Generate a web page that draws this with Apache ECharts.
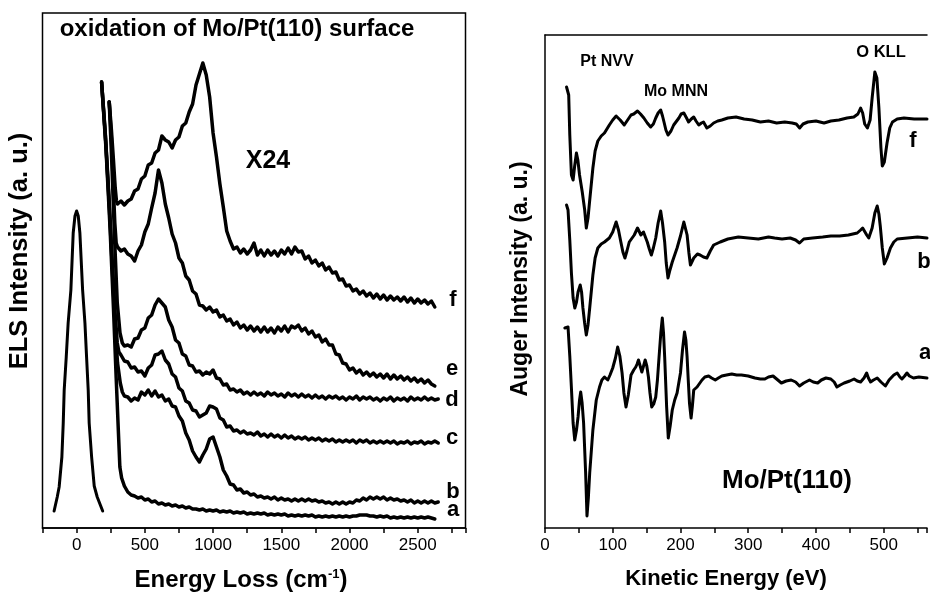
<!DOCTYPE html>
<html>
<head>
<meta charset="utf-8">
<title>Mo/Pt(110) ELS and Auger spectra</title>
<script src="https://cdn.jsdelivr.net/npm/echarts@6/dist/echarts.min.js"></script>
<style>
  html, body { margin: 0; padding: 0; background: #fff; }
  #chart { width: 930px; height: 594px; }
</style>
</head>
<body>
<div id="chart"></div>
<script>
// ---------- ELS spectra (energy loss in cm^-1, intensity in arbitrary units) ----------
// Elastic peak, unscaled
const elasticPeak = [[-165,17],[-142,31],[-128,41],[-108,71],[-98,105],[-91,138],[-76,171],[-62,205],[-42,238],[-25,295],[-12,312],[0,317],[12,312],[24,295],[44,238],[61,205],[73,171],[85,138],[92,105],[110,71],[129,42],[151,31],[191,17]];

// X24 traces: steep elastic tail (explicit pairs) followed by values sampled every 25 cm^-1
const TAIL_STEP = 25;

const elsHeadA = [[183,446],[215,380],[245,300],[270,220],[290,150],[305,100],[317,61],[330,50]];
const elsTailStartA = 350;
const elsTailA = [42,36,33,32,30,31,28,29,26,27, 24,25,23,24,22,23,21,22,20,21, 19,19,18,19,17,18,17,18,16,17, 16,17,15,16,15,16,14,15,14,15, 14,15,13,14,13,14,13,14,12,13, 12,13,12,13,12,13,11,12,11,12, 11,12,11,12,11,12,11,12,12,13, 13,13,12,12,11,12,11,12,10,11, 10,11,10,11,10,11,10,11,10,11, 10,9];

const elsHeadB = [[183,446],[212,390],[240,320],[265,250],[285,195],[300,165],[320,145],[335,136]];
const elsTailStartB = 350;
const elsTailB = [132,131,127,130,128,136,133,138,132,137, 131,133,127,129,122,121,112,107,95,88, 77,71,66,73,79,89,91,81,71,58, 52,44,43,38,39,35,36,33,34,31, 32,30,31,29,31,28,30,28,29,27, 29,27,29,27,29,27,28,26,27,25, 26,24,26,24,26,24,26,25,28,27, 30,28,31,29,31,29,31,28,30,28, 29,27,28,26,28,25,27,25,27,25, 27,25,26];

const elsHeadC = [[183,446],[210,395],[238,330],[262,265],[282,215],[298,185],[310,176]];
const elsTailStartC = 325;
const elsTailC = [173,167,166,160,161,156,157,152,160,163, 173,174,177,168,164,154,151,140,137,127, 125,118,117,111,113,115,122,121,119,110, 108,101,102,97,98,95,97,94,95,93, 96,92,94,91,94,91,93,90,93,90, 92,89,91,89,91,88,90,88,90,87, 89,87,89,86,88,86,88,86,88,85, 88,86,88,85,87,85,87,85,87,85, 87,84,86,85,87,84,86,85,87,84, 86,85,87,85];

const elsHeadD = [[239,426],[258,365],[278,290],[298,225],[318,195],[335,185]];
const elsTailStartD = 350;
const elsTailD = [182,183,181,189,190,198,200,210,213,223, 229,225,221,208,201,188,185,174,172,163, 162,156,157,153,156,154,158,150,149,143, 144,138,139,136,138,134,136,133,136,133, 135,132,136,133,135,132,134,131,135,132, 134,131,134,131,133,130,133,130,132,129, 132,130,132,129,131,128,131,129,132,128, 131,129,131,128,130,127,130,128,131,127, 130,128,130,127,131,128,130,128,131,128, 130,128,129];

const elsHeadE = [[239,426],[255,390],[268,345],[280,305],[290,285]];
const elsTailStartE = 300;
const elsTailE = [281,277,279,274,272,267,277,283,296,304, 320,335,358,345,324,310,294,285,270,265, 252,248,237,234,223,222,218,221,216,218, 211,213,207,209,203,206,200,203,198,202, 197,201,196,201,196,200,195,201,197,202, 196,202,200,203,197,200,194,197,191,193, 186,189,183,183,174,173,165,164,158,160, 155,158,153,156,152,155,151,154,150,154, 149,153,149,152,148,151,147,150,146,149, 145,148,144,142];

const elsHeadF = [[239,426],[255,398],[270,368],[283,340],[292,327]];
const elsTailStartF = 300;
const elsTailF = [324,327,323,327,329,337,339,349,352,363, 365,375,378,392,388,386,380,388,391,402, 405,416,424,443,454,465,453,431,395,371, 344,321,297,287,279,281,275,279,274,278, 285,273,278,272,278,273,277,272,278,274, 280,274,281,276,277,269,272,265,268,262, 265,258,261,255,256,248,249,242,243,237, 239,234,237,232,235,230,234,229,233,228, 232,228,231,227,231,226,230,225,229,225, 228,224,227,221];

// ---------- Auger spectra (kinetic energy in eV, derivative intensity in arbitrary units) ----------
const augerA = [[29.3,200],[31,202],[34,201],[36.6,172],[39,140],[41.5,105],[43.9,88],[46.5,98],[48.8,111],[51,128],[52.7,136],[54.8,125],[57,105],[58.5,80],[60,55],[62,12],[64,30],[66,55],[70.7,98],[75.7,128],[80.5,141],[84,148],[87.8,151],[92.7,148],[96,153],[100,160],[104,170],[107.3,181],[110.5,172],[113.8,155],[116.5,135],[119.6,121],[123,133],[127,153],[131,158],[134,161],[136,164],[138,168],[140.5,162],[143,156],[145.5,162],[147.9,168],[150.3,162],[152.7,151],[155,135],[157.6,121],[160.5,124],[163.5,131],[166,148],[168.4,171],[171,195],[173.2,210],[175,195],[176.7,171],[178.2,145],[179.6,121],[182,90],[184.8,102],[187.9,118],[191.5,128],[195,135],[200,155],[203,178],[206,196],[208,188],[209.8,171],[211.5,148],[213.3,125],[215.7,110],[217.6,122],[219.6,138],[224.5,141],[231.8,148],[236,151],[241.6,152],[246,150],[251.4,148],[256,150],[261,152],[268,153],[275.7,154],[283,153],[290,153],[300,152],[310,150],[318,149],[324.6,149],[330,151],[336.7,152],[342,149],[349,145],[356,147],[363.5,148],[370,146],[375.8,142],[382,145],[390.5,148],[396,146],[402.6,145],[408,148],[414.8,150],[422,149],[427,146],[431,141],[436,143],[441.7,145],[450,147],[456.4,149],[461,147],[466,146],[471,150],[474.9,155],[477.5,150],[480.7,146],[485,148],[490.5,150],[496,146],[502.6,142],[508,148],[515,153],[520,155],[524,151],[527,149],[531,152],[534.4,155],[538,152],[544,150],[552,151],[564,150]];

const augerB = [[31.8,323],[34,318],[36.6,288],[39,255],[41.5,230],[44,220],[46.5,226],[48.8,236],[52,243],[54,236],[56,220],[58.5,205],[61,193],[63.5,203],[66,220],[70.7,253],[74,270],[78,280],[83,284],[87.8,286],[95,290],[100,296],[105,306],[108.5,298],[112,286],[115,276],[118,270],[121,277],[124.4,286],[131.8,293],[136.6,300],[141.6,293],[145.4,296],[151,286],[154,279],[157,273],[160,280],[163.5,290],[167,305],[170.8,317],[173.5,305],[176.7,286],[179,265],[181.6,250],[184.5,258],[187.9,266],[195,280],[200,292],[205,306],[209.8,293],[212.5,275],[214.7,263],[219.6,270],[225,274],[229,273],[234,271],[239,270],[244,277],[249,283],[258.7,286],[270,289],[285.5,291],[300,290],[315,289],[330,291],[339,290],[350,289],[362,290],[370,288],[375.8,285],[382,289],[395,290],[410,291],[422,292],[435,292],[448,293],[461,295],[466,298],[469,300],[471,299],[475,293],[478,290],[483,300],[487,315],[490.5,322],[493,314],[495,302],[498,280],[501,264],[505,270],[510,280],[515,286],[520,289],[535,290],[550,291],[564,290]];

const augerF = [[31.8,441],[35,433],[36.6,393],[39,353],[41.5,348],[43.8,362],[46.4,375],[48.5,368],[51,353],[55,336],[58.6,318],[61,300],[63.5,310],[65.9,327],[70.7,360],[74,377],[78,387],[83,392],[87.8,395],[95,403],[100,408],[105,412],[111,408],[117,403],[122,408],[127,413],[131,414],[136.6,417],[141,414],[146,410],[151,405],[156,401],[160,404],[163.5,410],[167,415],[170.8,418],[173.5,412],[175.7,406],[178.5,398],[181.6,393],[186,397],[190,403],[197.7,410],[201,414],[205,415],[209,410],[212,406],[216,409],[219.6,411],[223,407],[227,403],[231,405],[234,406],[239,400],[244,402],[249,405],[255,407],[261,408],[270,410],[282,411],[294,409],[306,408],[318,406],[330,407],[342,405],[354,406],[365,405],[371,404],[376,400],[381,404],[388,406],[400,407],[412,405],[422,407],[434,408],[446,410],[456,411],[462,414],[466,420],[469,415],[472,404],[476,400],[480,408],[483,430],[487,456],[490,450],[493,420],[496,380],[498,362],[501,366],[505,385],[509,400],[513,406],[520,409],[530,410],[545,409],[564,409]];

// Axis tick labels
const elsTickLabels = [0, 500, 1000, 1500, 2000, 2500];
const augerTickLabels = [0, 100, 200, 300, 400, 500];

// ---------- helpers ----------
function buildTrace(head, start, tail) {
  return head.concat(tail.map((v, i) => [start + i * TAIL_STEP, v]));
}

const FONT = '"Liberation Sans", Arial, Helvetica, sans-serif';
const INK = '#000';

function lineSeries(name, data, xIndex, yIndex, width) {
  return {
    name: name,
    type: 'line',
    xAxisIndex: xIndex,
    yAxisIndex: yIndex,
    data: data,
    showSymbol: false,
    symbol: 'none',
    smooth: false,
    silent: true,
    clip: true,
    lineStyle: { color: INK, width: width, join: 'round', cap: 'round' },
    z: 3
  };
}

function label(text, x, y, size, opts) {
  opts = opts || {};
  return {
    type: 'text',
    x: x,
    y: y,
    rotation: opts.rotation || 0,
    z: 10,
    style: {
      text: text,
      fontSize: size,
      fontWeight: opts.weight || 'bold',
      fontFamily: FONT,
      fill: INK,
      align: opts.align || 'center',
      verticalAlign: 'middle',
      rich: opts.rich
    }
  };
}

const frameLine = { show: true, onZero: false, lineStyle: { color: INK, width: 1.5 } };
const outTicks = { show: true, inside: false, length: 5, lineStyle: { color: INK, width: 1.5 } };
const noAxisParts = { axisTick: { show: false }, axisLabel: { show: false }, splitLine: { show: false } };

const chart = echarts.init(document.getElementById('chart'), null, { renderer: 'canvas' });

const option = {
  animation: false,
  backgroundColor: '#fff',
  grid: [
    // ELS panel: closed frame
    { left: 42.5, top: 13, width: 423, height: 515, show: true, borderColor: INK, borderWidth: 1.5, backgroundColor: 'transparent' },
    // Auger panel: runs to the right edge of the page, frame drawn with axis lines
    { left: 545, top: 35, right: 0, height: 493, show: false }
  ],
  xAxis: [
    {
      type: 'value', gridIndex: 0, min: -250, max: 2850, interval: 250,
      axisLine: frameLine, axisTick: outTicks, splitLine: { show: false },
      axisLabel: {
        color: INK, fontSize: 17, fontFamily: FONT, margin: 9, showMinLabel: true, showMaxLabel: true,
        formatter: v => (elsTickLabels.indexOf(v) >= 0 ? String(v) : '')
      }
    },
    {
      type: 'value', gridIndex: 1, min: 0, max: 564, interval: 50,
      axisLine: frameLine, axisTick: outTicks, splitLine: { show: false },
      axisLabel: {
        color: INK, fontSize: 17, fontFamily: FONT, margin: 9, showMinLabel: true,
        formatter: v => (augerTickLabels.indexOf(v) >= 0 ? String(v) : '')
      }
    },
    Object.assign({ type: 'value', gridIndex: 1, position: 'top', min: 0, max: 564, axisLine: frameLine }, noAxisParts)
  ],
  yAxis: [
    Object.assign({ type: 'value', gridIndex: 0, min: 0, max: 515, axisLine: { show: false } }, noAxisParts),
    Object.assign({ type: 'value', gridIndex: 1, min: 0, max: 493, axisLine: frameLine }, noAxisParts)
  ],
  series: [
    lineSeries('elastic', elasticPeak, 0, 0, 3),
    lineSeries('a', buildTrace(elsHeadA, elsTailStartA, elsTailA), 0, 0, 3.5),
    lineSeries('b', buildTrace(elsHeadB, elsTailStartB, elsTailB), 0, 0, 3.5),
    lineSeries('c', buildTrace(elsHeadC, elsTailStartC, elsTailC), 0, 0, 3.5),
    lineSeries('d', buildTrace(elsHeadD, elsTailStartD, elsTailD), 0, 0, 3.5),
    lineSeries('e', buildTrace(elsHeadE, elsTailStartE, elsTailE), 0, 0, 3.5),
    lineSeries('f', buildTrace(elsHeadF, elsTailStartF, elsTailF), 0, 0, 3.5),
    lineSeries('Auger a', augerA, 1, 1, 3),
    lineSeries('Auger b', augerB, 1, 1, 3),
    lineSeries('Auger f', augerF, 1, 1, 3)
  ],
  graphic: [
    // ELS panel annotations
    label('oxidation of Mo/Pt(110) surface', 237, 29, 24),
    label('X24', 268, 161, 25),
    label('f', 453, 300, 22),
    label('e', 452, 369, 22),
    label('d', 452, 400, 22),
    label('c', 452, 438, 22),
    label('b', 453, 492, 22),
    label('a', 453, 510, 22),
    label('ELS Intensity (a. u.)', 20, 251, 25.5, { rotation: Math.PI / 2 }),
    label('{m|Energy Loss (cm}{s|-1}{m|)}', 241, 580, 24, {
      rich: {
        m: { fontSize: 24, fontWeight: 'bold', fontFamily: FONT, fill: INK },
        s: { fontSize: 13, fontWeight: 'bold', fontFamily: FONT, fill: INK, verticalAlign: 'top' }
      }
    }),
    // Auger panel annotations
    label('Pt NVV', 607, 62, 16),
    label('Mo MNN', 676, 92, 16),
    label('O KLL', 881, 52, 16.5),
    label('f', 913, 141, 22),
    label('b', 924, 262, 22),
    label('a', 925, 353, 22),
    label('Mo/Pt(110)', 787, 481, 26),
    label('Auger Intensity (a. u.)', 521, 279, 23, { rotation: Math.PI / 2 }),
    label('Kinetic Energy (eV)', 726, 579, 22)
  ]
};

chart.setOption(option);
</script>
</body>
</html>
